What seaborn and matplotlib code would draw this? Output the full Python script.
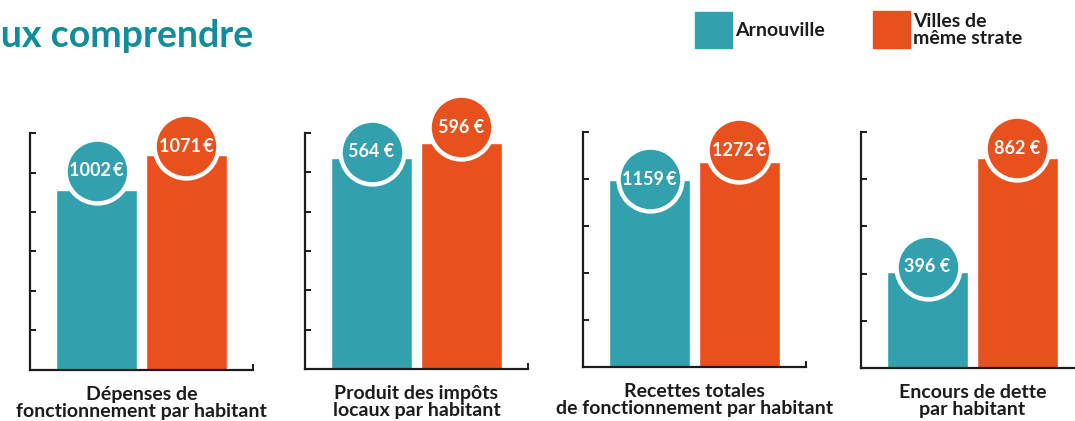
import numpy as np
import pandas as pd
import seaborn as sns
import matplotlib.pyplot as plt
from matplotlib.patches import Rectangle
from matplotlib.transforms import offset_copy

# data
series = ["Arnouville", "Villes de\nmême strate"]
categories = [
    "Dépenses de\nfonctionnement par habitant",
    "Produit des impôts\nlocaux par habitant",
    "Recettes totales\nde fonctionnement par habitant",
    "Encours de dette\npar habitant",
]
arnouville = [1002, 564, 1159, 396]
strate = [1071, 596, 1272, 862]

TEAL = "#32a0ad"
ORANGE = "#e8501e"
TITLE = "#108d9b"
INK = "#1c1c1c"

# layout (pixels)
W, H = 1075, 421
axes_px = [(30, 370, 133), (305, 369, 133), (583, 367, 132), (861, 368, 132)]
axes_w = 223
ylims = [(647, 1114), (115, 617), (0, 1460), (0, 969)]
n_ticks = [7, 7, 6, 6]
bubble_lift = [(19, 8.5), (6, 15.5), (1, 12), (5, 10)]

sns.set_theme(style="white")
plt.rcParams['font.family'] = ['Lato', 'DejaVu Sans']

fig = plt.figure(figsize=(W / 100, H / 100), dpi=100)

for i, cat in enumerate(categories):
    left, bottom, top = axes_px[i]
    ax = fig.add_axes([left / W, 1 - bottom / H, axes_w / W, (bottom - top) / H])
    df = pd.DataFrame({"serie": series, "valeur": [arnouville[i], strate[i]]})
    sns.barplot(data=df, x="serie", y="valeur", hue="serie", palette=[TEAL, ORANGE],
                saturation=1, width=0.9, ax=ax, legend=False)
    ax.set_xlim(-0.74, 1.74)
    lo, hi = ylims[i]
    ax.set_ylim(lo, hi)
    sns.despine(ax=ax)
    for s in ["left", "bottom"]:
        ax.spines[s].set_color(INK)
        ax.spines[s].set_linewidth(1.6)
    ax.set_yticks(np.linspace(lo, hi, n_ticks[i]))
    ax.set_yticklabels([])
    ax.set_xticks([1.74])
    ax.set_xticklabels([])
    ax.tick_params(axis="both", direction="in", length=4, width=1.4, color=INK,
                   left=True, bottom=True)
    ax.set_ylabel("")
    ax.set_xlabel(cat, fontsize=14, fontweight="bold", color=INK, labelpad=8,
                  linespacing=1.0)

    colors = [TEAL, ORANGE]
    vals = [arnouville[i], strate[i]]
    for j, patch in enumerate(ax.patches[:2]):
        x = patch.get_x() + patch.get_width() / 2
        y = patch.get_height()
        sep = "\u2009" if vals[j] >= 1000 else " "
        trans = offset_copy(ax.transData, fig=fig, y=bubble_lift[i][j], units="dots")
        ax.plot([x], [y], "o", ms=46, mfc=colors[j], mec="white", mew=3.2,
                transform=trans, clip_on=False, zorder=5)
        ax.text(x, y, f"{vals[j]}{sep}€", transform=trans, ha="center", va="center",
                color="white", fontsize=13, fontweight="bold", zorder=6, clip_on=False)

# title (cropped in the original)
fig.text(253 / W, 1 - 36 / H, "Pour mieux comprendre", ha="right", va="center",
         color=TITLE, fontsize=27, fontweight="bold")

# legend
fig.add_artist(Rectangle((695 / W, 1 - 48 / H), 37 / W, 36 / H, transform=fig.transFigure,
                         color=TEAL))
fig.add_artist(Rectangle((873 / W, 1 - 48 / H), 37 / W, 37 / H, transform=fig.transFigure,
                         color=ORANGE))
fig.text(735 / W, 1 - 30 / H, series[0], va="center", ha="left", fontsize=14,
         fontweight="bold", color=INK)
fig.text(913 / W, 1 - 30 / H, series[1], va="center", ha="left", fontsize=14,
         fontweight="bold", color=INK, linespacing=0.95)

fig.savefig("out.png", dpi=100)
